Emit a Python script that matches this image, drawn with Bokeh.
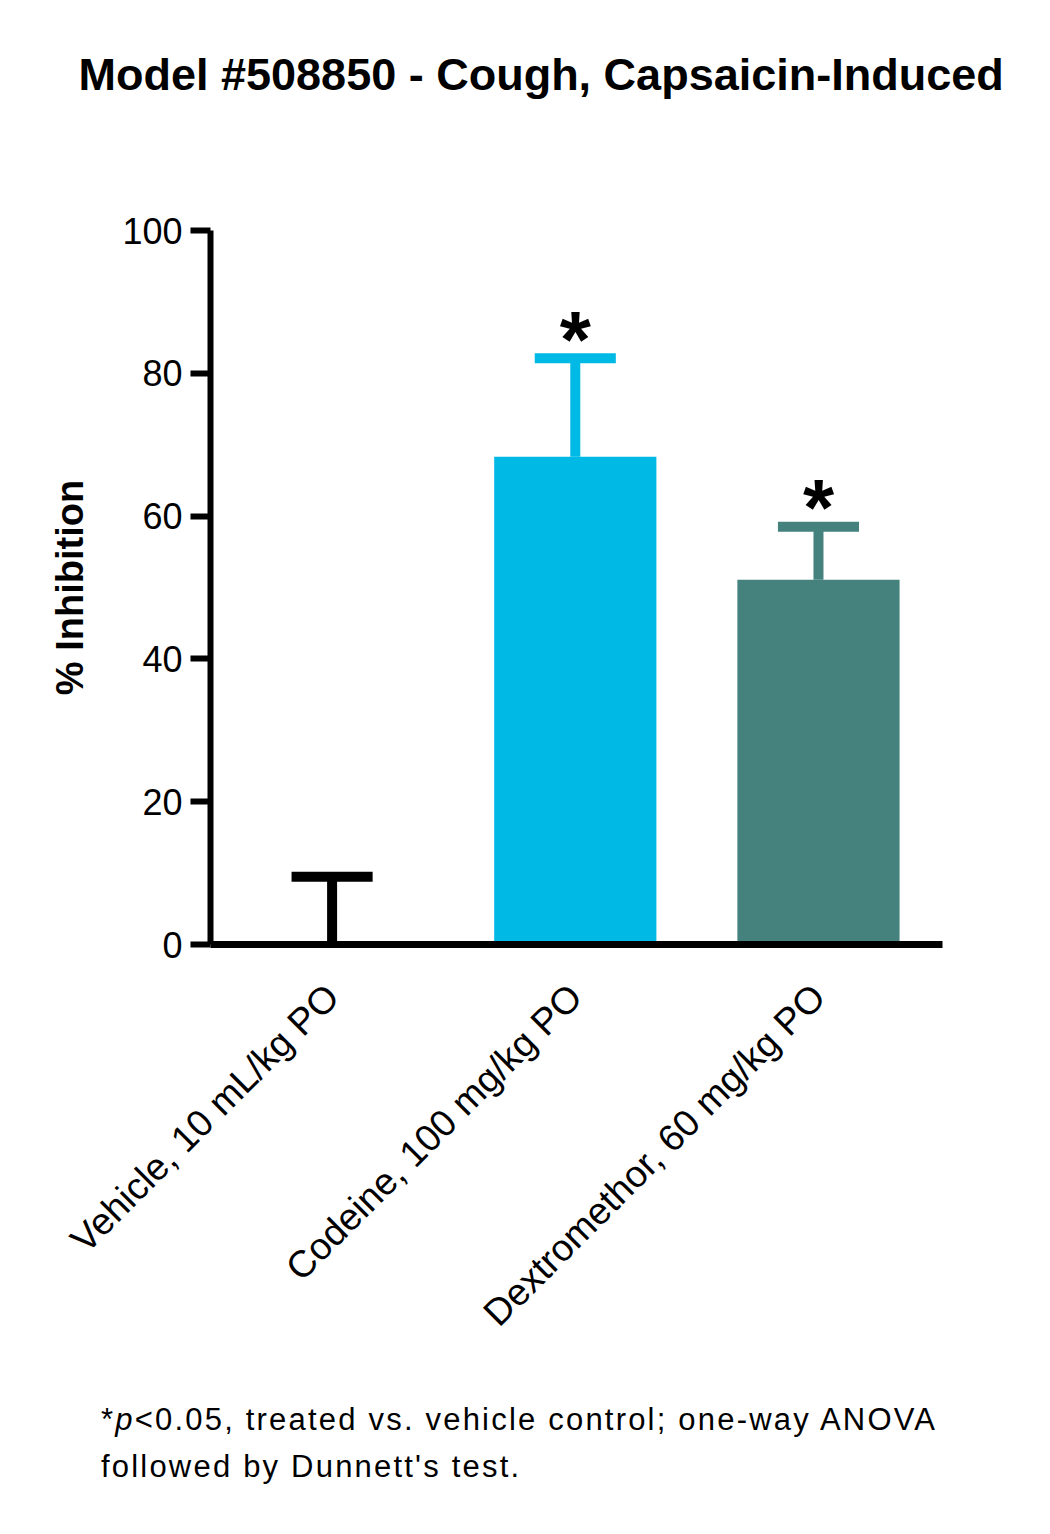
from bokeh.plotting import figure
from bokeh.models import Range1d, FixedTicker, ColumnDataSource, Title, Div
from bokeh.layouts import column
from bokeh.core.properties import value
from bokeh.embed import file_html
from bokeh.resources import INLINE
import math

# ---- data ----
categories = ["Vehicle, 10 mL/kg PO", "Codeine, 100 mg/kg PO", "Dextromethor, 60 mg/kg PO"]
means = [0.0, 68.3, 51.1]
sems = [9.5, 13.8, 7.4]
significance = ["", "*", "*"]
colors = ["#000000", "#00B9E4", "#45827D"]
y_ticks = [0, 20, 40, 60, 80, 100]

title_text = "Model #508850 - Cough, Capsaicin-Induced"
y_label_text = "% Inhibition"
foot_line1 = "<0.05, treated vs. vehicle control; one-way ANOVA"
foot_line2 = "followed by Dunnett's test."

FONT = "Liberation Sans"

W, H = 1050, 1396
FL, FT, FW, FH = 210, 230, 732, 714

xs = list(range(len(categories)))
bar_w = 0.667
cap_half = 0.1667

p = figure(width=W, height=H, output_backend="svg", toolbar_location=None,
           x_range=Range1d(-0.5, 2.51), y_range=Range1d(0, 100),
           min_border_left=FL, min_border_top=FT,
           min_border_right=W - FL - FW, min_border_bottom=H - FT - FH)
p.outline_line_color = None
p.xgrid.visible = False
p.ygrid.visible = False
p.background_fill_color = "white"
p.border_fill_color = "white"

src = ColumnDataSource(dict(x=xs, top=means, color=colors,
                            hi=[m + s for m, s in zip(means, sems)],
                            cl=[x - cap_half for x in xs],
                            cr=[x + cap_half for x in xs],
                            sig=significance))

p.vbar(x="x", top="top", bottom=0, width=bar_w, fill_color="color", line_color=None, source=src)
p.segment(x0="x", y0="top", x1="x", y1="hi", line_color="color", line_width=10,
          line_cap="butt", source=src)
p.segment(x0="cl", y0="hi", x1="cr", y1="hi", line_color="color", line_width=10,
          line_cap="butt", source=src)
p.text(x="x", y="hi", text="sig", text_font=value(FONT), text_font_style="bold",
       text_font_size="80px", text_align="center", text_baseline="alphabetic",
       y_offset=-19, text_color="black", source=src)

# y axis
ya = p.yaxis[0]
ya.ticker = FixedTicker(ticks=y_ticks)
ya.axis_line_width = 6
ya.axis_line_color = "black"
ya.major_tick_line_width = 6
ya.major_tick_out = 20
ya.major_tick_in = 0
ya.minor_tick_out = 0
ya.minor_tick_in = 0
ya.major_label_standoff = 8
ya.major_label_text_font = FONT
ya.major_label_text_font_size = "36px"
ya.major_label_text_color = "black"
ya.axis_label = y_label_text
ya.axis_label_text_font = FONT
ya.axis_label_text_font_style = "bold"
ya.axis_label_text_font_size = "38px"
ya.axis_label_text_color = "black"
ya.axis_label_standoff = 28

# x axis
xa = p.xaxis[0]
xa.ticker = FixedTicker(ticks=xs)
xa.major_label_overrides = {i: c for i, c in zip(xs, categories)}
xa.axis_line_width = 7
xa.axis_line_color = "black"
xa.major_tick_out = 0
xa.major_tick_in = 0
xa.minor_tick_out = 0
xa.minor_tick_in = 0
xa.major_label_orientation = math.pi / 4
xa.major_label_standoff = 46
xa.major_label_text_font = FONT
xa.major_label_text_font_size = "37.5px"
xa.major_label_text_color = "black"

# title: spacer nearest the frame, main title outside it
p.add_layout(Title(text=" ", text_font_size="1px", standoff=128), "above")
p.add_layout(Title(text=title_text, text_font=FONT, text_font_style="bold",
                   text_font_size="45px", text_color="black", align="left",
                   offset=78 - FL, standoff=0), "above")

foot = Div(text=('<div style="font-family:\'Liberation Sans\',Arial,sans-serif; font-size:31px; '
                 'letter-spacing:2.2px; line-height:47px; color:black; padding-left:101px; '
                 'white-space:nowrap;">*<i>p</i>' + foot_line1.replace("<", "&lt;") +
                 '<br>' + foot_line2 + '</div>'),
           width=W, height=1534 - H, margin=(0, 0, 0, 0))

layout = column(p, foot, spacing=0)
open("out.html", "w").write(file_html(layout, INLINE))
